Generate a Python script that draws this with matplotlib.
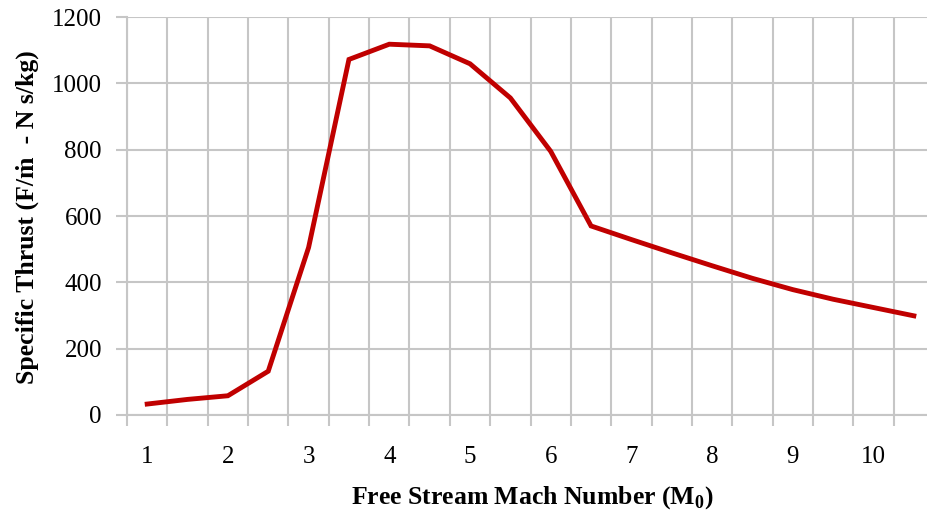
import matplotlib
matplotlib.use("Agg")
import matplotlib.pyplot as plt
import numpy as np

# Mach number categories (one every 0.5) and specific thrust values
mach = [1, 1.5, 2, 2.5, 3, 3.5, 4, 4.5, 5, 5.5, 6, 6.5, 7, 7.5, 8, 8.5, 9, 9.5, 10, 10.5]
thrust = [33, 47, 58, 132, 505, 1072, 1118, 1113, 1059, 956, 795, 570, 529, 489, 450, 412, 378, 349, 324, 299]
y_ticks = [0, 200, 400, 600, 800, 1000, 1200]

plt.rcParams['font.family'] = ['Liberation Serif', 'DejaVu Serif']
plt.rcParams['mathtext.fontset'] = 'custom'
plt.rcParams['mathtext.rm'] = 'Liberation Serif'
plt.rcParams['mathtext.bf'] = 'Liberation Serif:bold'

grid_col = '#c6c6c6'
fig = plt.figure(figsize=(9.27, 5.17), dpi=100)
ax = fig.add_axes([0.137, 0.1973, 0.8706, 0.7698])

pos = np.arange(len(mach))
ax.plot(pos, thrust, color='#c00000', linewidth=3.5, solid_joinstyle='miter', zorder=3)

ax.set_xlim(-0.5, len(mach) - 0.5)
ax.set_ylim(0, 1200)

# category boundaries carry the gridlines and tick marks
ax.set_xticks(np.arange(-0.5, len(mach)), minor=False)
ax.set_xticklabels([])
lab_pos = [i for i, m in enumerate(mach) if float(m).is_integer()]
ax.set_xticks(lab_pos, minor=True)
ax.set_xticklabels([str(int(mach[i])) for i in lab_pos], minor=True)
ax.tick_params(axis='x', which='major', length=8, width=1.5, color=grid_col, direction='out')
ax.tick_params(axis='x', which='minor', length=0, pad=22, labelsize=18)

ax.set_yticks(y_ticks)
ax.tick_params(axis='y', length=8, width=1.5, color=grid_col, pad=10, labelsize=18)

ax.grid(True, which='major', color=grid_col, linewidth=1.5)
ax.set_axisbelow(True)

for s in ['top', 'right']:
    ax.spines[s].set_visible(False)
for s in ['left', 'bottom']:
    ax.spines[s].set_color(grid_col)
    ax.spines[s].set_linewidth(1.5)

fig.text(0.574, 0.037, r'Free Stream Mach Number (M$_\mathbf{0}$)', fontsize=18.5,
         fontweight='bold', ha='center', va='center')
fig.text(0.029, 0.58, 'Specific Thrust (F/\u1e41  - N s/kg)', rotation=90, fontsize=18.5,
         fontweight='bold', ha='center', va='center')

fig.savefig('out.png', dpi=100)
